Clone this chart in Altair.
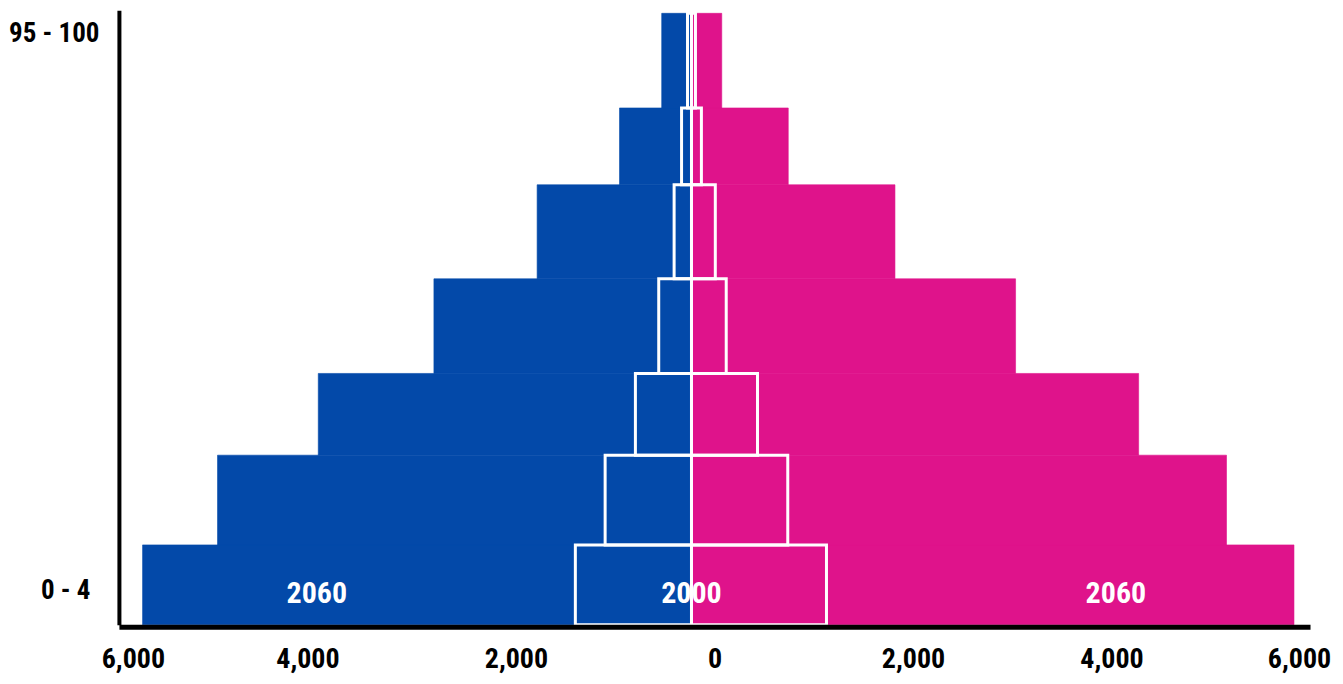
import altair as alt
import pandas as pd

# ---- data ----
band_lo = [0, 13.0, 27.6, 40.9, 56.3, 71.6, 84.1]
band_hi = [13.0, 27.6, 40.9, 56.3, 71.6, 84.1, 99.5]

male_2060 = [5530, 4775, 3760, 2595, 1555, 725, 300]
female_2060 = [6070, 5390, 4505, 3265, 2050, 975, 305]
male_2000 = [1170, 870, 565, 330, 175, 100, 40]
female_2000 = [1360, 970, 665, 350, 240, 100, 40]

x_ticks = [-6000, -4000, -2000, 0, 2000, 4000, 6000]
y_tick_pos = [5.6, 96.2]
y_tick_labels = ["0 - 4", "95 - 100"]

label_text = ["2060", "2000", "2060"]
label_x = [-3775, 0, 4276]
label_y = [5, 5, 5]

BLUE = "#0349A9"
PINK = "#DF138B"
FONT = "Liberation Sans Narrow, Roboto Condensed, Arial Narrow, Liberation Sans, sans-serif"


def frame(male, female):
    recs = []
    for i in range(len(band_lo)):
        recs.append({"lo": band_lo[i], "hi": band_hi[i], "sex": "Male", "value": -male[i], "base": 0})
        recs.append({"lo": band_lo[i], "hi": band_hi[i], "sex": "Female", "value": female[i], "base": 0})
    return pd.DataFrame(recs)


df60 = frame(male_2060, female_2060)
df00 = frame(male_2000, female_2000)
dft = pd.DataFrame({"text": label_text, "value": label_x, "lo": label_y})

x_scale = alt.Scale(domain=[-6000, 6000], nice=False, zero=False)
y_scale = alt.Scale(domain=[0, 100], nice=False, zero=False)
col_scale = alt.Scale(domain=["Male", "Female"], range=[BLUE, PINK])

x_axis = alt.Axis(
    values=x_ticks,
    labelExpr="format(abs(datum.value), ',')",
    title=None,
    grid=False,
    ticks=False,
    domainColor="black",
    domainWidth=5,
    labelFont=FONT,
    labelFontSize=28,
    labelFontWeight="bold",
    labelColor="black",
    labelPadding=19,
    offset=2,
    zindex=1,
    labelFlush=False,
    labelOverlap=False,
    labelBound=False,
    labelOffset={
        "condition": [
            {"test": "datum.value < -5000", "value": 14},
            {"test": "datum.value == -4000", "value": -10},
            {"test": "datum.value > 5000", "value": -11},
        ],
        "value": 0,
    },
)

y_axis = alt.Axis(
    values=y_tick_pos,
    labelExpr=f"datum.value < 50 ? '{y_tick_labels[0]}' : '{y_tick_labels[1]}'",
    title=None,
    grid=False,
    ticks=False,
    domainColor="black",
    domainWidth=4,
    labelFont=FONT,
    labelFontSize=27,
    labelFontWeight="bold",
    labelColor="black",
    labelAlign="right",
    labelBaseline="middle",
    labelPadding={"condition": {"test": "datum.value < 50", "value": 29}, "value": 20},
    labelLimit=200,
    zindex=1,
)

OFF = -23

bars60 = alt.Chart(df60).mark_bar(xOffset=OFF, x2Offset=OFF, strokeWidth=0.6).encode(
    x=alt.X("value:Q", scale=x_scale, axis=x_axis),
    x2=alt.X2("base:Q"),
    y=alt.Y("lo:Q", scale=y_scale, axis=y_axis),
    y2=alt.Y2("hi:Q"),
    color=alt.Color("sex:N", scale=col_scale, legend=None),
    stroke=alt.Stroke("sex:N", scale=col_scale, legend=None),
)

texts = alt.Chart(dft).mark_text(
    font=FONT, fontSize=30, fontWeight="bold", color="white",
    dx=OFF, align="center", baseline="middle",
).encode(
    x=alt.X("value:Q", scale=x_scale, axis=x_axis),
    y=alt.Y("lo:Q", scale=y_scale, axis=y_axis),
    text="text:N",
)

bars00 = alt.Chart(df00).mark_bar(
    xOffset=OFF, x2Offset=OFF, fillOpacity=0, stroke="white", strokeWidth=3,
).encode(
    x=alt.X("value:Q", scale=x_scale, axis=x_axis),
    x2=alt.X2("base:Q"),
    y=alt.Y("lo:Q", scale=y_scale, axis=y_axis),
    y2=alt.Y2("hi:Q"),
)

chart = alt.layer(bars60, texts, bars00).properties(
    width=1192,
    height=615,
    autosize=alt.AutoSizeParams(type="none"),
    padding={"left": 111, "top": 2, "right": 25, "bottom": 50},
    background="white",
).configure_view(stroke=None)

chart.save("out.html", embed_options={"renderer": "svg", "actions": False})
